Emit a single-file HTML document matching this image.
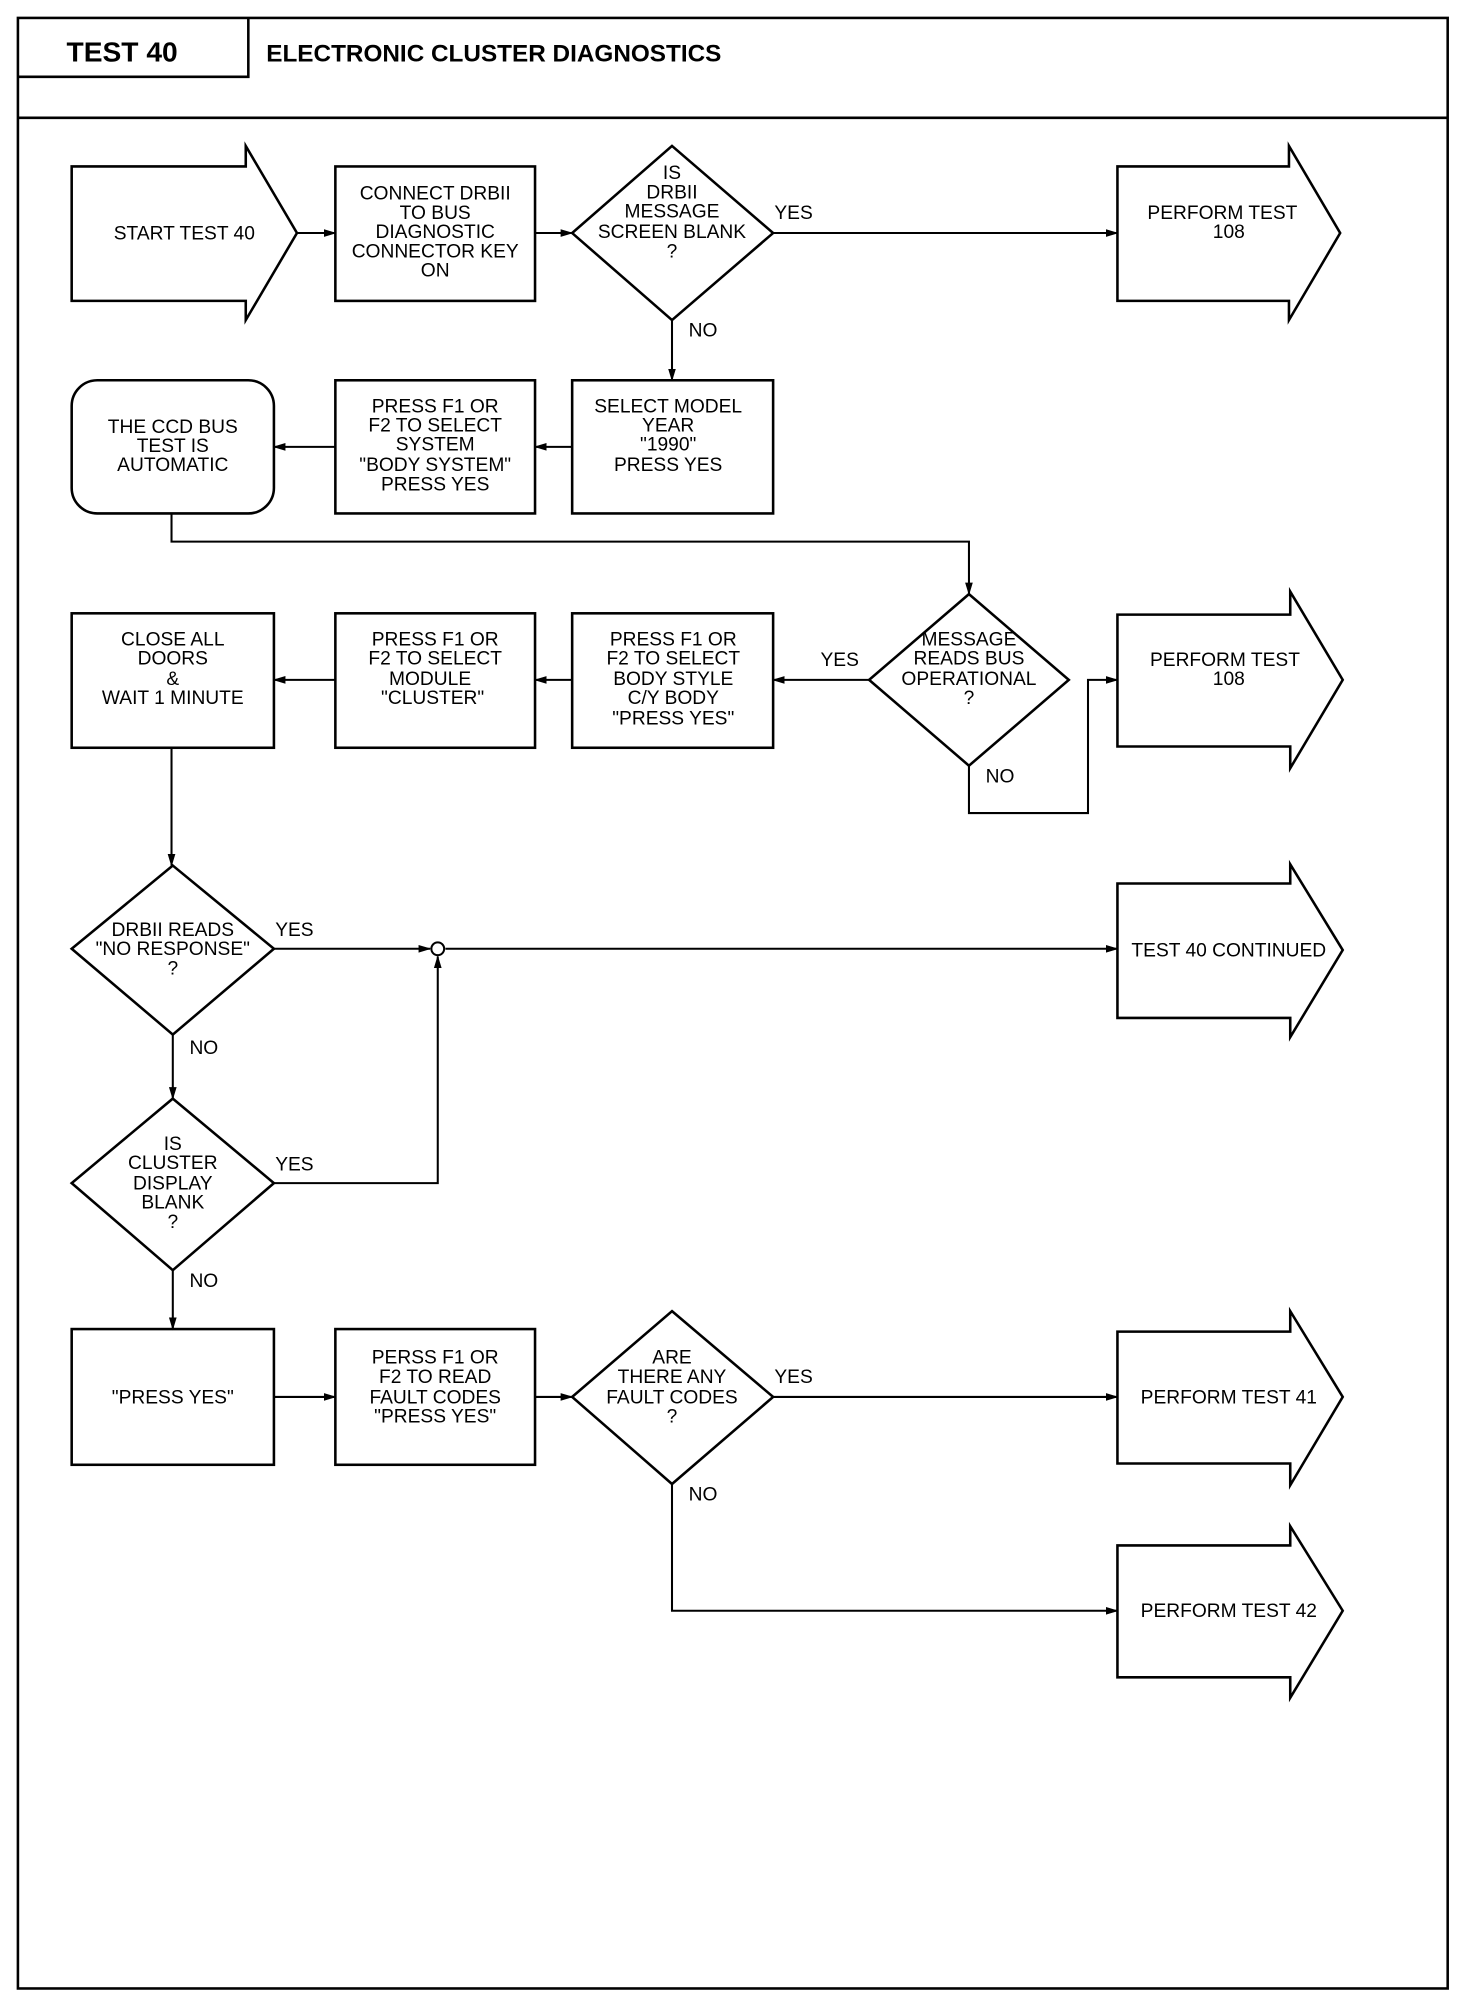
<!DOCTYPE html>
<html><head><meta charset="utf-8"><style>
html,body{margin:0;padding:0;background:#fff;}
svg{display:block;}
text{font-family:"Liberation Sans",sans-serif;font-size:15px;fill:#000;text-anchor:middle;}
.h{font-weight:bold;font-size:22px;text-anchor:start;}
.l{text-anchor:start;}
</style></head><body>
<svg width="1472" height="2000" viewBox="0 0 1150 1562" preserveAspectRatio="none" xmlns="http://www.w3.org/2000/svg">
<defs><marker id="a" markerWidth="10" markerHeight="8" refX="9" refY="4" orient="auto" markerUnits="userSpaceOnUse"><path d="M0,1 L10,4 L0,7 Z" fill="#000"/></marker></defs>
<g fill="none" stroke="#000" stroke-width="2">
<rect x="14" y="14" width="1117" height="1539"/>
<line x1="14" y1="92" x2="1131" y2="92"/>
<polyline points="14,60 194,60 194,14"/>
</g>
<text class="h" x="52" y="48">TEST 40</text>
<text class="h" x="208" y="48" style="font-size:19px">ELECTRONIC CLUSTER DIAGNOSTICS</text>
<g fill="#fff" stroke="#000" stroke-width="2">
<path d="M56,130 L192,130 L192,114 L232,182 L192,250 L192,235 L56,235 Z"/>
<rect x="262" y="130" width="156" height="105"/>
<path d="M525,114 L604,182 L525,250 L447,182 Z"/>
<path d="M873,130 L1007,130 L1007,114 L1047,182 L1007,250 L1007,235 L873,235 Z"/>
<rect x="56" y="297" width="158" height="104" rx="20"/>
<rect x="262" y="297" width="156" height="104"/>
<rect x="447" y="297" width="157" height="104"/>
<path d="M757,464 L835,531 L757,598 L679,531 Z"/>
<path d="M873,480 L1008,480 L1008,462 L1049,531 L1008,600 L1008,583 L873,583 Z"/>
<rect x="447" y="479" width="157" height="105"/>
<rect x="262" y="479" width="156" height="105"/>
<rect x="56" y="479" width="158" height="105"/>
<path d="M135,676 L214,741 L135,808 L56,741 Z"/>
<path d="M873,690 L1008,690 L1008,675 L1049,742 L1008,810 L1008,795 L873,795 Z"/>
<path d="M135,858 L214,924 L135,992 L56,924 Z"/>
<rect x="56" y="1038" width="158" height="106"/>
<rect x="262" y="1038" width="156" height="106"/>
<path d="M525,1024 L604,1091 L525,1159 L447,1091 Z"/>
<path d="M873,1040 L1008,1040 L1008,1024 L1049,1091 L1008,1160 L1008,1143 L873,1143 Z"/>
<path d="M873,1207 L1008,1207 L1008,1192 L1049,1258 L1008,1326 L1008,1310 L873,1310 Z"/>
</g>
<g fill="none" stroke="#000" stroke-width="1.6" marker-end="url(#a)">
<line x1="232" y1="182" x2="262" y2="182"/>
<line x1="418" y1="182" x2="447" y2="182"/>
<line x1="604" y1="182" x2="873" y2="182"/>
<line x1="525" y1="250" x2="525" y2="297"/>
<line x1="447" y1="349" x2="418" y2="349"/>
<line x1="262" y1="349" x2="214" y2="349"/>
<polyline points="134,401 134,423 757,423 757,464"/>
<line x1="679" y1="531" x2="604" y2="531"/>
<line x1="447" y1="531" x2="418" y2="531"/>
<line x1="262" y1="531" x2="214" y2="531"/>
<polyline points="757,598 757,635 850,635 850,531 873,531"/>
<line x1="134" y1="584" x2="134" y2="676"/>
<line x1="214" y1="741" x2="336" y2="741"/>
<line x1="348" y1="741" x2="873" y2="741"/>
<line x1="135" y1="808" x2="135" y2="858"/>
<polyline points="214,924 342,924 342,747"/>
<line x1="135" y1="992" x2="135" y2="1038"/>
<line x1="214" y1="1091" x2="262" y2="1091"/>
<line x1="418" y1="1091" x2="447" y2="1091"/>
<line x1="604" y1="1091" x2="873" y2="1091"/>
<polyline points="525,1159 525,1258 873,1258"/>
</g>
<circle cx="342" cy="741" r="5" fill="#fff" stroke="#000" stroke-width="1.6"/>
<text x="144" y="187">START TEST 40</text>
<text x="340" y="156">CONNECT DRBII</text><text x="340" y="171">TO BUS</text><text x="340" y="186">DIAGNOSTIC</text><text x="340" y="201">CONNECTOR KEY</text><text x="340" y="216">ON</text>
<text x="525" y="140">IS</text><text x="525" y="155">DRBII</text><text x="525" y="170">MESSAGE</text><text x="525" y="186">SCREEN BLANK</text><text x="525" y="201">?</text>
<text class="l" x="605" y="171">YES</text><text class="l" x="538" y="263">NO</text>
<text x="955" y="171">PERFORM TEST</text><text x="960" y="186">108</text>
<text x="135" y="338">THE CCD BUS</text><text x="135" y="353">TEST IS</text><text x="135" y="368">AUTOMATIC</text>
<text x="340" y="322">PRESS F1 OR</text><text x="340" y="337">F2 TO SELECT</text><text x="340" y="352">SYSTEM</text><text x="340" y="368">"BODY SYSTEM"</text><text x="340" y="383">PRESS YES</text>
<text x="522" y="322">SELECT MODEL</text><text x="522" y="337">YEAR</text><text x="522" y="352">"1990"</text><text x="522" y="368">PRESS YES</text>
<text x="757" y="504">MESSAGE</text><text x="757" y="519">READS BUS</text><text x="757" y="535">OPERATIONAL</text><text x="757" y="550">?</text>
<text x="656" y="520">YES</text><text class="l" x="770" y="611">NO</text>
<text x="957" y="520">PERFORM TEST</text><text x="960" y="535">108</text>
<text x="526" y="504">PRESS F1 OR</text><text x="526" y="519">F2 TO SELECT</text><text x="526" y="535">BODY STYLE</text><text x="526" y="550">C/Y BODY</text><text x="526" y="566">"PRESS YES"</text>
<text x="340" y="504">PRESS F1 OR</text><text x="340" y="519">F2 TO SELECT</text><text x="336" y="535">MODULE</text><text x="338" y="550">"CLUSTER"</text>
<text x="135" y="504">CLOSE ALL</text><text x="135" y="519">DOORS</text><text x="135" y="535">&amp;</text><text x="135" y="550">WAIT 1 MINUTE</text>
<text x="135" y="731">DRBII READS</text><text x="135" y="746">"NO RESPONSE"</text><text x="135" y="761">?</text>
<text class="l" x="215" y="731">YES</text><text class="l" x="148" y="823">NO</text>
<text x="960" y="747">TEST 40 CONTINUED</text>
<text x="135" y="898">IS</text><text x="135" y="913">CLUSTER</text><text x="135" y="929">DISPLAY</text><text x="135" y="944">BLANK</text><text x="135" y="959">?</text>
<text class="l" x="215" y="914">YES</text><text class="l" x="148" y="1005">NO</text>
<text x="135" y="1096">"PRESS YES"</text>
<text x="340" y="1065">PERSS F1 OR</text><text x="340" y="1080">F2 TO READ</text><text x="340" y="1096">FAULT CODES</text><text x="340" y="1111">"PRESS YES"</text>
<text x="525" y="1065">ARE</text><text x="525" y="1080">THERE ANY</text><text x="525" y="1096">FAULT CODES</text><text x="525" y="1111">?</text>
<text class="l" x="605" y="1080">YES</text><text class="l" x="538" y="1172">NO</text>
<text x="960" y="1096">PERFORM TEST 41</text>
<text x="960" y="1263">PERFORM TEST 42</text>
</svg>
</body></html>
